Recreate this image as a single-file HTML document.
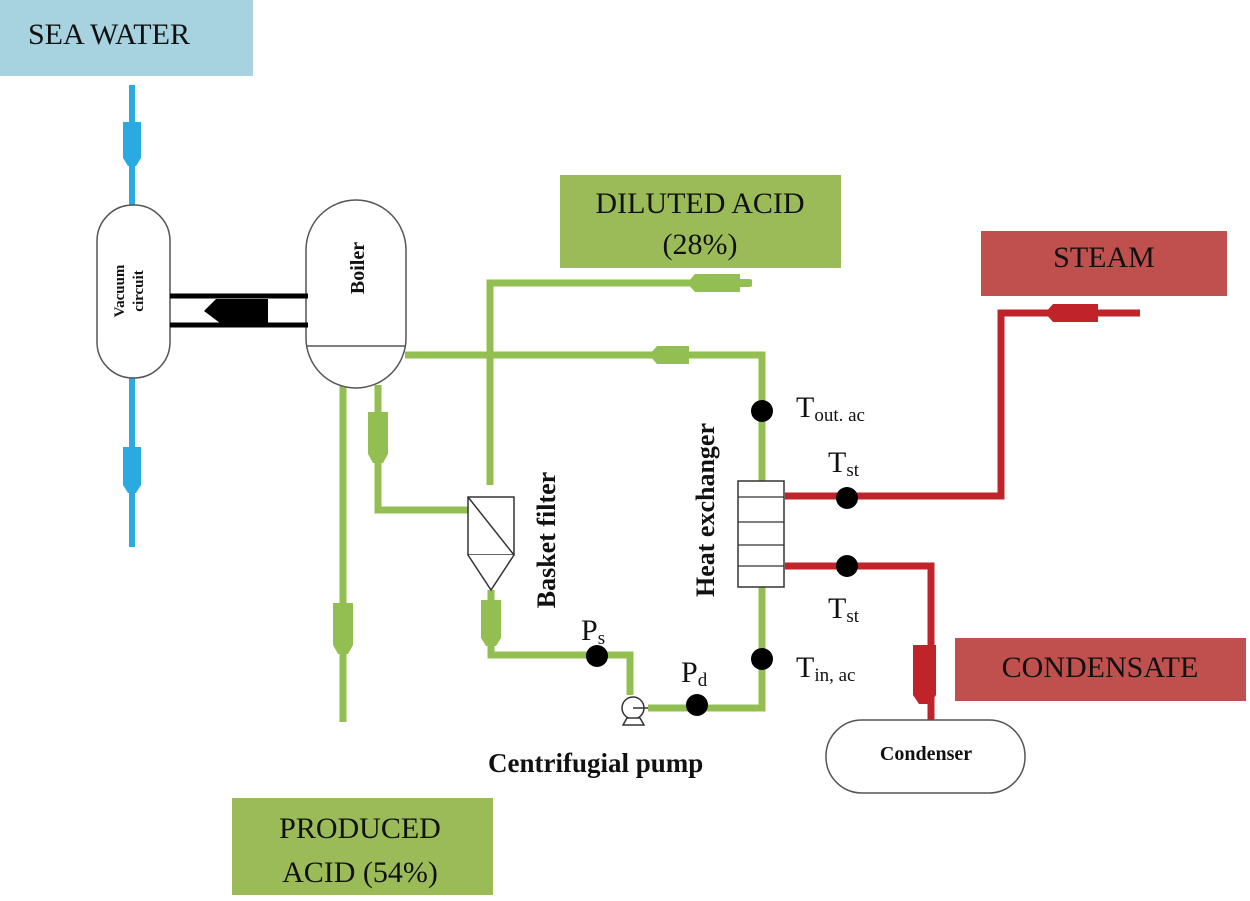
<!DOCTYPE html>
<html><head><meta charset="utf-8"><style>
html,body{margin:0;padding:0;background:#fff;}
svg{display:block;}
text{font-family:"Liberation Serif",serif;}
</style></head><body>
<svg width="1250" height="901" viewBox="0 0 1250 901" xmlns="http://www.w3.org/2000/svg">
<!-- boxes -->
<rect x="0" y="0" width="253" height="76" fill="#a6d3df"/>
<text x="28" y="44" font-size="30" fill="#111">SEA WATER</text>
<rect x="560" y="175" width="281" height="93" fill="#9bbb59"/>
<text x="700" y="213" font-size="30" text-anchor="middle" fill="#111">DILUTED ACID</text>
<text x="700" y="254" font-size="30" text-anchor="middle" fill="#111">(28%)</text>
<rect x="981" y="231" width="246" height="65" fill="#c0504d"/>
<text x="1104" y="267" font-size="30" text-anchor="middle" fill="#111">STEAM</text>
<rect x="955" y="638" width="291" height="63" fill="#c0504d"/>
<text x="1100" y="677" font-size="30" text-anchor="middle" fill="#111">CONDENSATE</text>
<rect x="232" y="798" width="261" height="97" fill="#9bbb59"/>
<text x="360" y="838" font-size="30" text-anchor="middle" fill="#111">PRODUCED</text>
<text x="360" y="882" font-size="30" text-anchor="middle" fill="#111">ACID (54%)</text>

<!-- blue pipes -->
<g stroke="#29aae1" stroke-width="6" fill="none">
<line x1="132" y1="85" x2="132" y2="206"/>
<line x1="132" y1="378" x2="132" y2="547"/>
</g>
<g fill="#29aae1">
<path d="M123,122 h18 v36 l-5,8 h-8 l-5,-8z"/>
<path d="M123,447 h18 v38 l-5,8 h-8 l-5,-8z"/>
</g>

<!-- green pipes -->
<g stroke="#93bf52" stroke-width="7" fill="none" stroke-linejoin="miter">
<polyline points="490,485 490,283 752,283"/>
<polyline points="405,355 762,355 762,481"/>
<polyline points="762,587 762,708 648,708"/>
<line x1="343" y1="385" x2="343" y2="722"/>
<polyline points="378,385 378,510 470,510"/>
<polyline points="491,590 491,655 630,655 630,695"/>
</g>
<g fill="#93bf52">
<path d="M695,274 h45 v5 h10 v8 h-10 v5 h-45 l-8,-9 z"/>
<path d="M657,346 h32 v18 h-32 l-8,-9 z"/>
<path d="M368,412 h20 v42 l-5,9 h-10 l-5,-9z"/>
<path d="M333,603 h20 v42 l-5,9 h-10 l-5,-9z"/>
<path d="M481,600 h20 v38 l-5,8 h-10 l-5,-8z"/>
</g>

<!-- red pipes -->
<g stroke="#c1232b" stroke-width="7" fill="none">
<polyline points="785,496 1001,496 1001,313 1140,313"/>
<polyline points="785,566 931,566 931,722"/>
</g>
<g fill="#c1232b">
<path d="M1053,304 h45 v18 h-45 l-8,-9 z"/>
<path d="M913,645 h23 v50 l-6,9 h-11 l-6,-9z"/>
</g>

<!-- vessels -->
<rect x="97" y="205" width="73" height="173" rx="36" ry="36" fill="#fff" stroke="#555" stroke-width="1.5"/>
<text transform="translate(124,291) rotate(-90)" font-size="15" font-weight="bold" text-anchor="middle" fill="#111">Vacuum</text>
<text transform="translate(143,291) rotate(-90)" font-size="15" font-weight="bold" text-anchor="middle" fill="#111">circuit</text>
<rect x="306" y="200" width="100" height="188" rx="50" ry="50" fill="#fff" stroke="#555" stroke-width="1.5"/>
<line x1="306" y1="346" x2="405" y2="346" stroke="#555" stroke-width="1.5"/>
<text transform="translate(364,268) rotate(-90)" font-size="20" font-weight="bold" text-anchor="middle" fill="#111">Boiler</text>

<!-- black pipes -->
<g stroke="#000" stroke-width="5">
<line x1="170" y1="296" x2="308" y2="296"/>
<line x1="170" y1="325" x2="308" y2="325"/>
</g>
<path d="M204,311 l12,-12 h52 v24 h-48z" fill="#000"/>

<!-- basket filter -->
<rect x="468" y="497" width="46" height="58" fill="#fff" stroke="#333" stroke-width="1.5"/>
<line x1="468" y1="497" x2="514" y2="555" stroke="#333" stroke-width="1.5"/>
<path d="M468,555 L491,590 L514,555" fill="#fff" stroke="#333" stroke-width="1.5"/>
<text transform="translate(555,540) rotate(-90)" font-size="26" font-weight="bold" text-anchor="middle" fill="#111">Basket filter</text>

<!-- heat exchanger -->
<rect x="738" y="481" width="46" height="106" fill="#fff" stroke="#333" stroke-width="1.5"/>
<g stroke="#333" stroke-width="1.2">
<line x1="738" y1="497" x2="784" y2="497"/>
<line x1="738" y1="522" x2="784" y2="522"/>
<line x1="738" y1="545" x2="784" y2="545"/>
<line x1="738" y1="566" x2="784" y2="566"/>
</g>
<text transform="translate(714,510) rotate(-90)" font-size="26" font-weight="bold" text-anchor="middle" fill="#111">Heat exchanger</text>

<!-- pump -->
<circle cx="633" cy="708" r="11" fill="#fff" stroke="#333" stroke-width="1.5"/>
<line x1="633" y1="708" x2="648" y2="708" stroke="#333" stroke-width="1.5"/>
<path d="M623,725 l4,-7 h13 l4,7z" fill="#fff" stroke="#333" stroke-width="1.5"/>
<text x="488" y="772" font-size="27" font-weight="bold" fill="#111">Centrifugial pump</text>

<!-- condenser -->
<rect x="826" y="720" width="199" height="73" rx="36" ry="36" fill="#fff" stroke="#555" stroke-width="1.5"/>
<text x="926" y="760" font-size="20" font-weight="bold" text-anchor="middle" fill="#111">Condenser</text>

<!-- dots -->
<g fill="#000">
<circle cx="597" cy="656" r="11"/>
<circle cx="697" cy="705" r="11"/>
<circle cx="762" cy="411" r="11"/>
<circle cx="762" cy="659" r="11"/>
<circle cx="847" cy="498" r="11"/>
<circle cx="847" cy="566" r="11"/>
</g>

<!-- labels -->
<g fill="#111">
<text x="581" y="640" font-size="30">P<tspan font-size="19" dy="4">s</tspan></text>
<text x="681" y="682" font-size="30">P<tspan font-size="19" dy="4">d</tspan></text>
<text x="796" y="417" font-size="30">T<tspan font-size="19" dy="4">out. ac</tspan></text>
<text x="828" y="472" font-size="30">T<tspan font-size="19" dy="4">st</tspan></text>
<text x="828" y="618" font-size="30">T<tspan font-size="19" dy="4">st</tspan></text>
<text x="796" y="677" font-size="30">T<tspan font-size="19" dy="4">in, ac</tspan></text>
</g>
</svg>
</body></html>
